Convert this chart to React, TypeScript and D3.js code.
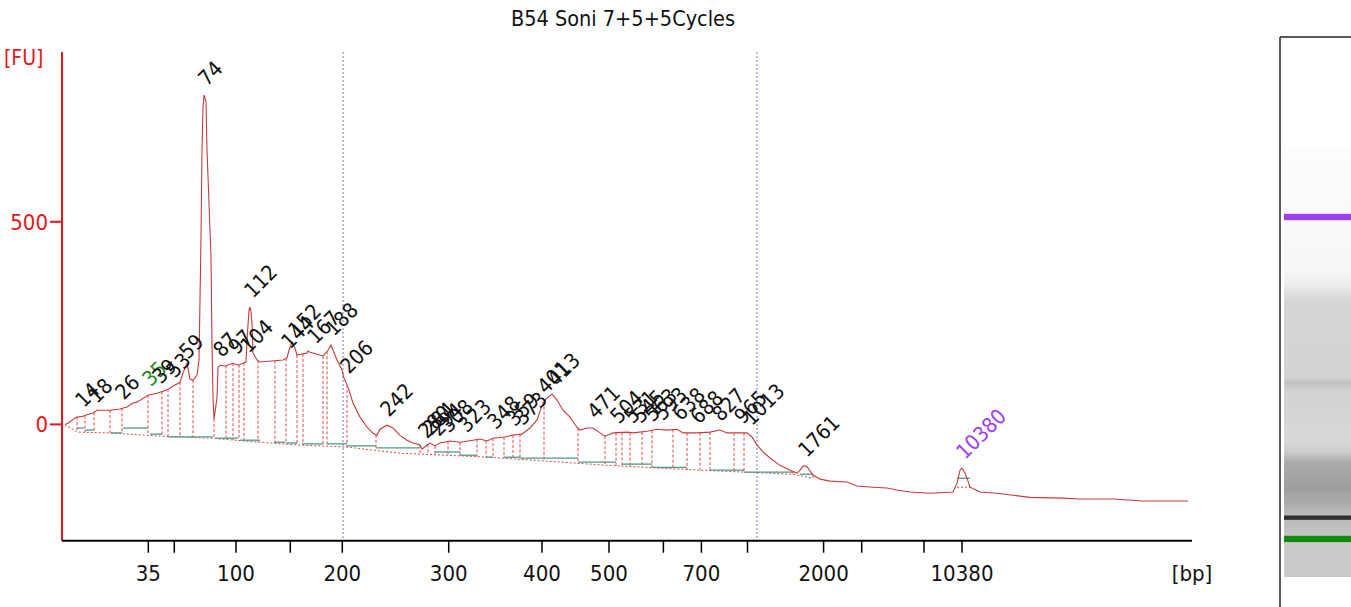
import React from 'react';
import * as d3 from 'd3';

// ---------- data ----------
const chartTitle = 'B54 Soni 7+5+5Cycles';

// ladder (size in bp) and its migration time (s)
const ladderSizes = [35, 50, 100, 150, 200, 300, 400, 500, 600, 700, 1000, 2000, 3000, 7000, 10380];
const ladderTimes = [28.63, 31.23, 37.4, 42.83, 48.03, 58.67, 68.0, 74.7, 80.14, 83.94, 88.55, 96.16, 99.97, 106.2, 110.0];
const ladderLabeled = [35, 100, 200, 300, 400, 500, 700, 2000, 10380];

const yTickValues = [0, 500];

// electropherogram trace: time (s) / fluorescence (FU)
const traceTime = [20.3, 20.6, 21.3, 21.5, 22.1, 22.4, 23.1, 23.5, 24.8, 25.8, 26.5, 27.1, 27.5, 28.6, 29.5, 30.1, 30.6, 31.3, 31.8, 32.1, 32.5, 32.8, 33.1, 33.5, 33.7, 33.8, 33.9, 34.0, 34.1, 34.2, 34.4, 34.5, 34.7, 34.9, 35.0, 35.1, 35.2, 35.4, 35.5, 35.6, 35.8, 36.3, 36.5, 37.1, 37.6, 38.1, 38.4, 38.5, 38.7, 38.8, 38.9, 39.0, 39.1, 39.5, 39.8, 42.1, 42.5, 42.7, 43.0, 43.3, 43.5, 44.5, 44.6, 44.8, 45.1, 46.1, 46.6, 46.9, 47.1, 47.5, 48.0, 48.2, 48.6, 49.1, 49.8, 50.5, 51.1, 51.5, 51.8, 52.5, 53.1, 53.8, 54.5, 55.1, 55.8, 56.0, 56.5, 56.8, 57.3, 57.8, 58.8, 59.8, 61.1, 61.8, 62.5, 63.1, 64.3, 65.1, 66.0, 66.8, 67.5, 68.1, 68.5, 69.0, 69.5, 70.1, 70.8, 71.5, 71.8, 72.5, 73.1, 73.8, 74.3, 75.1, 76.5, 77.1, 78.5, 79.5, 80.5, 81.5, 82.1, 83.5, 84.8, 85.8, 86.5, 88.5, 89.0, 89.5, 90.1, 90.8, 91.8, 92.8, 93.5, 93.8, 94.1, 94.4, 94.6, 95.1, 95.8, 96.8, 98.5, 99.5, 101.1, 102.5, 103.5, 104.8, 106.8, 109.1, 109.5, 109.8, 110.0, 110.3, 110.6, 110.8, 111.8, 113.5, 115.1, 116.8, 120.1, 121.8, 125.1, 128.1, 132.6];
const traceFU = [0, 3, 16, 18, 20, 23, 28, 35, 35, 38, 43, 53, 55, 72, 77, 82, 87, 97, 104, 127, 151, 112, 109, 122, 159, 307, 462, 677, 781, 813, 796, 677, 546, 413, 191, 67, 13, 48, 67, 141, 146, 144, 146, 151, 146, 151, 154, 208, 282, 290, 277, 250, 176, 159, 154, 159, 164, 183, 203, 188, 171, 176, 181, 178, 176, 169, 183, 196, 183, 159, 134, 114, 92, 53, 18, -7, -22, -27, -12, -2, -9, -27, -39, -46, -51, -61, -51, -46, -53, -46, -41, -44, -39, -36, -41, -34, -31, -26, -24, -9, 11, 53, 65, 75, 60, 35, 18, -7, -14, -9, -9, -21, -29, -21, -19, -21, -17, -12, -14, -12, -21, -21, -19, -14, -21, -21, -31, -51, -68, -83, -101, -113, -120, -113, -103, -103, -108, -125, -135, -140, -142, -152, -155, -157, -162, -167, -170, -167, -145, -113, -108, -120, -140, -155, -167, -170, -175, -180, -182, -184, -184, -189, -189];

// called peaks
const peakSizes = ['14', '18', '26', '35', '39', '53', '59', '74', '87', '97', '104', '112', '144', '152', '167', '188', '206', '242', '280', '284', '294', '308', '323', '348', '359', '373', '401', '413', '471', '504', '531', '545', '563', '593', '638', '688', '827', '965', '1013', '1761', '10380'];
const peakTimes = [21.9, 23.2, 25.9, 28.6, 29.6, 31.0, 32.3, 34.2, 35.7, 37.2, 38.4, 38.8, 42.5, 43.2, 45.1, 46.9, 48.4, 52.4, 56.2, 56.6, 57.4, 58.4, 60.2, 63.1, 65.0, 65.8, 68.1, 69.1, 73.1, 75.4, 76.8, 77.6, 78.8, 79.8, 81.6, 83.4, 85.6, 87.8, 88.7, 94.2, 110.0];
const lowerMarker = '35';
const upperMarker = '10380';

// smear region limits (s)
const regionTimes = [48.1, 89.5];

// peak boundaries (s)
const dropTimes = [21.5, 22.3, 23.2, 24.8, 26.0, 28.6, 30.0, 30.6, 31.8, 33.1, 35.2, 36.4, 37.1, 37.7, 38.2, 39.6, 41.3, 42.4, 43.5, 44.1, 46.1, 46.5, 48.5, 51.4, 55.8, 56.6, 57.3, 58.6, 59.8, 61.5, 62.4, 63.1, 64.2, 65.1, 65.8, 68.2, 71.6, 74.3, 75.4, 76.0, 76.8, 78.0, 79.0, 81.1, 82.5, 83.8, 84.8, 87.2, 88.2, 93.1, 95.1];

// global baseline (s / FU)
const baseTime = [20.3, 21.5, 24.8, 29.8, 34.9, 39.8, 43.8, 48.5, 53.8, 62.8, 74.5, 83.8, 93.1, 95.1];
const baseFU = [0, -19, -21, -29, -34, -44, -51, -56, -71, -81, -101, -113, -123, -133];
const markerBaseTime = [109.5, 110.8];
const markerBaseFU = [-155, -155];

// local peak baselines
const localStart = [21.5, 22.3, 24.9, 26.1, 28.8, 30.6, 35.3, 37.8, 41.2, 42.4, 44.0, 46.5, 48.5, 51.4, 57.3, 59.8, 62.4, 64.2, 65.8, 71.6, 76.0, 79.0, 84.8, 88.2, 93.8, 109.5];
const localEnd = [22.2, 23.2, 26.0, 28.6, 30.0, 35.1, 37.6, 39.8, 42.3, 43.5, 46.1, 48.5, 51.4, 55.8, 59.8, 61.5, 63.1, 65.8, 71.6, 75.4, 79.0, 82.5, 88.2, 93.1, 95.1, 110.8];
const localFU = [-9, -14, -21, -9, -24, -31, -34, -39, -44, -46, -48, -48, -53, -58, -68, -76, -81, -81, -83, -93, -98, -106, -113, -118, -123, -133];

// virtual gel lane: time (s) / gray level
const gelTime = [19.0, 27.1, 29.9, 32.9, 35.96, 37.7, 39.2, 41.0, 43.5, 48.1, 50.6, 53.6, 66.3, 68.1, 69.3, 89.0, 92.8, 96.6, 127.7];
const gelGray = [202, 202, 196, 188, 184, 170, 168, 158, 163, 171, 204, 216, 210, 192, 210, 214, 236, 247, 253];
const gelBandTime = [110.0, 34.0, 28.63];
const gelBandWidth = [1.6, 1.1, 1.6];

// ---------- styles ----------
const FONT = "Tahoma, 'DejaVu Sans Condensed', 'DejaVu Sans', sans-serif";
const RED = '#e8141c';
const TRACE = '#c83a3a';
const DROP = '#e04848';
const TEAL = '#4f9a88';
const BLUE = '#7474c8';
const bandColors = ['#9b3df5', '#303030', '#108a10'];

export default function App() {
  const x = d3.scaleLinear().domain([20, 133]).range([62, 1192]);
  const y = d3.scaleLinear().domain([-287, 919]).range([540.7, 52]);
  const gelY = d3.scaleLinear().domain([19, 127.7]).range([577, 147]);

  const interp = (ts: number[], vs: number[], t: number) => {
    const i = d3.bisectLeft(ts, t);
    if (i <= 0) return vs[0];
    if (i >= ts.length) return vs[vs.length - 1];
    const t0 = ts[i - 1], t1 = ts[i];
    const f = (t - t0) / (t1 - t0);
    return vs[i - 1] + f * (vs[i] - vs[i - 1]);
  };
  const traceAt = (t: number) => interp(traceTime, traceFU, t);
  const baseAt = (t: number) => interp(baseTime, baseFU, t);

  const line = d3.line<number>().x((_, i) => x(traceTime[i])).y((d) => y(d));
  const tracePath = line(traceFU) || '';
  const baseLine = d3.line<number>().x((_, i) => x(baseTime[i])).y((d) => y(d));
  const basePath = baseLine(baseFU) || '';
  const mLine = d3.line<number>().x((_, i) => x(markerBaseTime[i])).y((d) => y(d));
  const markerPath = mLine(markerBaseFU) || '';

  const xAxisY = y(-287);
  const yAxisX = x(20);

  // gel gradient
  const gelTop = gelY(127.7), gelBottom = gelY(19.0);
  const gelStops = gelTime.map((t, i) => ({
    offset: (gelY(t) - gelTop) / (gelBottom - gelTop),
    gray: gelGray[i],
  })).sort((a, b) => a.offset - b.offset);

  return (
    <svg width={1351} height={607} style={{ position: 'absolute', left: 0, top: 0, background: '#fff' }}
      fontFamily={FONT}>
      <defs>
        <linearGradient id="gel" x1="0" y1="0" x2="0" y2="1">
          {gelStops.map((s, i) => (
            <stop key={i} offset={s.offset} stopColor={`rgb(${s.gray},${s.gray},${s.gray})`} />
          ))}
        </linearGradient>
      </defs>

      {/* title */}
      <text x={623} y={26} textAnchor="middle" fontSize={21.5} fill="#111">{chartTitle}</text>

      {/* region markers */}
      {regionTimes.map((t, i) => (
        <line key={i} x1={x(t)} x2={x(t)} y1={y(919)} y2={xAxisY} stroke={BLUE} strokeWidth={1} strokeDasharray="2,2" />
      ))}

      {/* global baseline */}
      <path d={basePath} fill="none" stroke={DROP} strokeWidth={1} strokeDasharray="2,2" />
      <path d={markerPath} fill="none" stroke={DROP} strokeWidth={1} strokeDasharray="2,2" />

      {/* drop lines */}
      {dropTimes.map((t, i) => (
        <line key={i} x1={x(t)} x2={x(t)} y1={y(traceAt(t))} y2={y(baseAt(t))}
          stroke={DROP} strokeWidth={1} strokeDasharray="3,2" />
      ))}

      {/* local baselines */}
      {localStart.map((t, i) => (
        <line key={i} x1={x(t)} x2={x(localEnd[i])} y1={y(localFU[i])} y2={y(localFU[i])}
          stroke={TEAL} strokeWidth={1.3} />
      ))}

      {/* trace */}
      <path d={tracePath} fill="none" stroke={TRACE} strokeWidth={1.1} />

      {/* peak labels */}
      {peakSizes.map((s, i) => {
        const t = peakTimes[i];
        const px = x(t) + 3;
        const py = y(traceAt(t)) - 8;
        const fill = s === lowerMarker ? '#1a8a1a' : s === upperMarker ? '#9b3df5' : '#111';
        return (
          <text key={i} transform={`translate(${px},${py}) rotate(-45)`} fontSize={21} fill={fill}>{s}</text>
        );
      })}

      {/* y axis */}
      <line x1={yAxisX} x2={yAxisX} y1={y(919)} y2={xAxisY} stroke={RED} strokeWidth={2} />
      {yTickValues.map((v) => (
        <g key={v}>
          <line x1={yAxisX - 12} x2={yAxisX} y1={y(v)} y2={y(v)} stroke={RED} strokeWidth={2} />
          <text x={yAxisX - 14} y={y(v) + 8} textAnchor="end" fontSize={22} fill={RED}>{v}</text>
        </g>
      ))}
      <text x={4} y={65} fontSize={21} fill={RED}>[FU]</text>

      {/* x axis */}
      <line x1={yAxisX} x2={x(133)} y1={xAxisY} y2={xAxisY} stroke="#000" strokeWidth={2} />
      {ladderSizes.map((s, i) => (
        <g key={s}>
          <line x1={x(ladderTimes[i])} x2={x(ladderTimes[i])} y1={xAxisY} y2={xAxisY + 12} stroke="#000" strokeWidth={1.5} />
          {ladderLabeled.includes(s) && (
            <text x={x(ladderTimes[i])} y={581} textAnchor="middle" fontSize={22} fill="#111">{s}</text>
          )}
        </g>
      ))}
      <text x={x(133)} y={581} textAnchor="middle" fontSize={22} fill="#111">[bp]</text>

      {/* gel lane */}
      <line x1={1280} x2={1280} y1={37} y2={607} stroke="#222" strokeWidth={1.5} />
      <line x1={1280} x2={1351} y1={37} y2={37} stroke="#222" strokeWidth={1.5} />
      <rect x={1284} y={gelTop} width={70} height={gelBottom - gelTop} fill="url(#gel)" />
      {gelBandTime.map((t, i) => (
        <rect key={i} x={1284} y={gelY(t + gelBandWidth[i] / 2)} width={70}
          height={gelY(t - gelBandWidth[i] / 2) - gelY(t + gelBandWidth[i] / 2)} fill={bandColors[i]} />
      ))}
    </svg>
  );
}
